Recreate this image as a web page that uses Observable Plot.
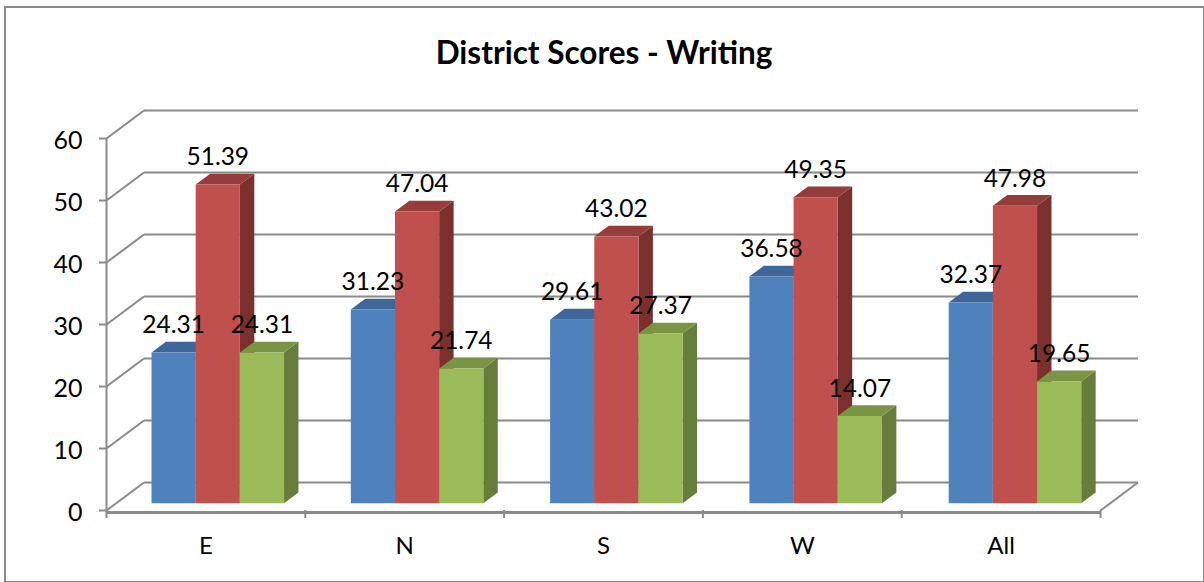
<!DOCTYPE html>
<html>
<head>
<meta charset="utf-8">
<script src="https://cdn.jsdelivr.net/npm/d3@7"></script>
<script src="https://cdn.jsdelivr.net/npm/@observablehq/plot@0.6"></script>
<style>
  html, body { margin: 0; background: #fff; }
  #chart { position: relative; width: 1204px; height: 582px; overflow: hidden; font-family: Lato, "Open Sans", sans-serif; }
  #frame { position: absolute; left: 4px; top: 6px; width: 1197px; height: 573px; border: 2px solid #8a8a8a; }
  #title { position: absolute; left: 4px; width: 1200px; top: 32px; margin: 0; text-align: center; font-size: 31.5px; line-height: 40px; font-weight: 700; color: #000; }
  svg { position: absolute; left: 0; top: 0; }
</style>
</head>
<body>
<div id="chart">
  <div id="frame"></div>
  <h2 id="title">District Scores - Writing</h2>
</div>
<script>
const categories = ["E", "N", "S", "W", "All"];
const seriesA = [24.31, 31.23, 29.61, 36.58, 32.37];
const seriesB = [51.39, 47.04, 43.02, 49.35, 47.98];
const seriesC = [24.31, 21.74, 27.37, 14.07, 19.65];
const yTicks = [0, 10, 20, 30, 40, 50, 60];
const frontColors = ["#4f81bd", "#c0504d", "#9bbb59"];
const topColors = ["#3e6698", "#953d3b", "#7a9443"];
const sideColors = ["#345680", "#7c302e", "#667d3b"];

// Oblique projection expressed in data units: depth 1 = full floor depth
const depthX = 0.1886, depthY = 4.516;
const barStart = 0.1774, groupStep = 1.0025, barW = 0.2222;
const barFrontDepth = 0.26, barBackDepth = 0.645;
const at = (x, v, d) => ({x: x + d * depthX, y: v + d * depthY});

const series = [seriesA, seriesB, seriesC];
const faces = [];
const labels = [];
categories.forEach((cat, i) => {
  series.forEach((vals, s) => {
    const v = vals[i];
    const x0 = barStart + i * groupStep + s * barW, x1 = x0 + barW;
    const f = barFrontDepth, b = barBackDepth;
    const poly = (id, color, pts) => pts.forEach(p => faces.push({...at(...p), id: `${i}-${s}-${id}`, color}));
    poly("side", sideColors[s], [[x1, 0, f], [x1, 0, b], [x1, v, b], [x1, v, f]]);
    poly("top", topColors[s], [[x0, v, f], [x0, v, b], [x1, v, b], [x1, v, f]]);
    poly("front", frontColors[s], [[x0, 0, f], [x1, 0, f], [x1, v, f], [x0, v, f]]);
    labels.push({...at((x0 + x1) / 2, v, f), text: v.toFixed(2)});
  });
});

const n = categories.length;
const grid = yTicks.flatMap(v => [
  {a: at(0, v, 0), b: at(0, v, 1)},
  {a: at(0, v, 1), b: at(n, v, 1)}
]);
grid.push({a: at(n, 0, 0), b: at(n, 0, 1)});

const gray = "#8a8a8a";
const plot = Plot.plot({
  width: 1204, height: 582,
  marginLeft: 106, marginRight: 104, marginTop: 138, marginBottom: 72,
  x: {domain: [0, n]},
  y: {domain: [0, 60]},
  color: {type: "identity"},
  style: {background: "transparent", fontFamily: "Lato, 'Open Sans', sans-serif"},
  marks: [
    Plot.link(grid, {x1: d => d.a.x, y1: d => d.a.y, x2: d => d.b.x, y2: d => d.b.y, stroke: gray, strokeWidth: 2}),
    Plot.ruleX([0], {y1: 0, y2: 60, stroke: gray, strokeWidth: 2}),
    Plot.ruleY([0], {x1: 0, x2: n, dy: 2, stroke: gray, strokeWidth: 3}),
    Plot.axisY(yTicks, {anchor: "left", tickSize: 7, stroke: gray, strokeWidth: 2, tickFormat: () => "", label: null}),
    Plot.axisY(yTicks, {anchor: "left", tickSize: 0, tickPadding: 24, dy: 2, fill: "#000", stroke: "none", fontSize: 25, tickFormat: d => d, label: null}),
    Plot.axisX(d3.range(n + 1), {anchor: "bottom", tickSize: 8, stroke: gray, strokeWidth: 2, tickFormat: () => "", label: null}),
    Plot.axisX(d3.range(n).map(i => i + 0.5), {anchor: "bottom", tickSize: 0, tickPadding: 26, fontSize: 24, fill: "#000", stroke: "none", tickFormat: d => categories[d - 0.5], label: null}),
    Plot.line(faces, {x: "x", y: "y", z: "id", fill: "color", stroke: "none", curve: "linear"}),
    Plot.text(labels, {x: "x", y: "y", text: "text", dy: -27, fontSize: 24.5, fill: "#000", lineAnchor: "middle", textAnchor: "middle"})
  ]
});
document.getElementById("chart").appendChild(plot);
</script>
</body>
</html>
